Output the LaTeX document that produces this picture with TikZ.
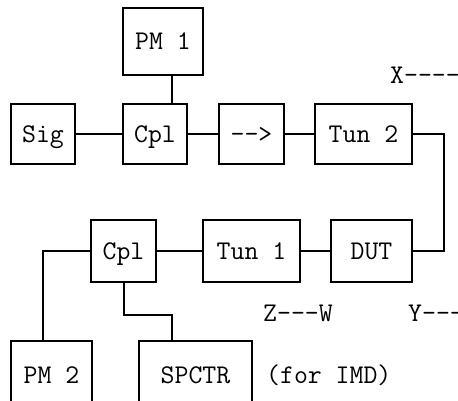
\documentclass[tikz,border=0pt]{standalone}
\usetikzlibrary{calc}
\begin{document}
\begin{tikzpicture}[x=1pt,y=-1pt,
  every node/.style={font=\ttfamily\fontsize{27}{30}\selectfont, text height=16pt, text depth=0pt, inner sep=0pt},
  blk/.style={draw, line width=2pt, minimum height=60pt},
  lbl/.style={anchor=west},
  wire/.style={line width=2pt}]
\useasboundingbox (0,0) rectangle (458,400);
\clip (0,0) rectangle (458,400);
% row 1
\node[blk, minimum width=80pt, minimum height=67pt] (PM1) at (163,41.5) {PM 1};
\node[blk, minimum width=64pt] (Sig) at (43,134) {Sig};
\node[blk, minimum width=64pt] (Cpl1) at (155,134) {Cpl};
\node[blk, minimum width=65pt] (Iso) at (251.5,134) {-{}->};
\node[blk, minimum width=97pt] (Tun2) at (363.5,134) {Tun 2};
% row 2
\node[blk, minimum width=65pt, minimum height=62pt] (Cpl2) at (123.5,251) {Cpl};
\node[blk, minimum width=97pt, minimum height=62pt] (Tun1) at (251.5,251) {Tun 1};
\node[blk, minimum width=81pt, minimum height=62pt] (DUT) at (371.5,251) {DUT};
% row 3
\node[blk, minimum width=81pt, minimum height=68pt] (PM2) at (51.5,375) {PM 2};
\node[blk, minimum width=113pt, minimum height=68pt] (SP) at (195.5,375) {SPCTR};
% labels
\node[lbl] (X) at (390,75) {X-----};
\node[lbl] (Z) at (263,313) {Z---W};
\node[lbl] (Y) at (408,313) {Y-----};
\node[lbl] (IMD) at (266,375) {(for IMD)};
% wires
\coordinate (c1) at ($(Cpl1.north east)!0.25!(Cpl1.north west)$);
\draw[wire] (c1) -- (c1 |- PM1.south);
\draw[wire] (Sig.east) -- (Cpl1.west);
\draw[wire] (Cpl1.east) -- (Iso.west);
\draw[wire] (Iso.east) -- (Tun2.west);
\draw[wire] (Tun2.east) -- ++(31,0) |- (DUT.east);
\draw[wire] (DUT.west) -- (Tun1.east);
\draw[wire] (Tun1.west) -- (Cpl2.east);
\coordinate (p2) at ($(PM2.north west)!0.395!(PM2.north east)$);
\draw[wire] (Cpl2.west) -| (p2);
\coordinate (s2) at ($(SP.north west)!0.292!(SP.north east)$);
\draw[wire] (Cpl2.south) -- ++(0,32) -| (s2);
\end{tikzpicture}
\end{document}
